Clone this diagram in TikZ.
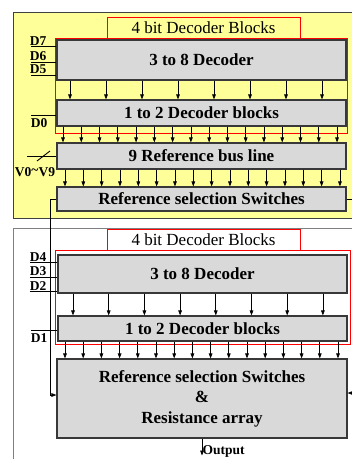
\documentclass[tikz,border=0pt]{standalone}
\usepackage{fontspec}
\setmainfont{Liberation Serif}
\usetikzlibrary{arrows.meta,positioning}
\definecolor{fondo}{HTML}{FFFF99}
\definecolor{bloquegris}{HTML}{D9D9D9}
\definecolor{borde}{HTML}{383838}
\definecolor{rojo}{HTML}{FF0000}

\begin{document}
\begin{tikzpicture}[x=1pt, y=-1pt,
  bloque/.style={draw=borde, line width=1.1pt, fill=bloquegris, minimum width=289pt,
    inner sep=0pt, align=center, font=\fontsize{17}{20.5}\selectfont\bfseries},
  pestana/.style={draw=rojo, line width=0.9pt, minimum width=193pt, minimum height=21pt,
    inner sep=0pt, font=\fontsize{17}{19}\selectfont},
  grupo/.style={draw=rojo, line width=0.9pt},
  fleche/.style={-{Triangle[length=5pt,width=3.6pt]}, line width=0.7pt},
  hilo/.style={line width=0.9pt},
  etiq/.style={inner sep=0.5pt, font=\fontsize{13.5}{14}\selectfont\bfseries}]
\useasboundingbox (0,0) rectangle (352,459);
\clip (0,0) rectangle (352,459);

% panels
\draw[fill=fondo, draw=black!75, line width=1pt] (13,12) rectangle (362,218);
\draw[draw=black!50, line width=1pt] (13,228) rectangle (362,470);

% upper decoder
\draw[grupo] (55,38) rectangle (347,133);
\node[pestana, fill=fondo] (tabA) at (203.5,27.5) {4 bit Decoder Blocks};
\node[bloque, minimum height=40pt] (dec38a) at (201.5,60) {3 to 8 Decoder};
\node[bloque, minimum height=26pt] (dec12a) at (201.5,113) {1 to 2 Decoder blocks};
\node[bloque, minimum height=26pt] (bus) at (201.5,156) {9 Reference bus line};
\node[bloque, minimum height=24pt] (swA) at (201.5,199) {Reference selection Switches};

\foreach \i [evaluate=\i as \x using 70+36*\i] in {0,...,7}
  \draw[fleche] (\x,0 |- dec38a.south) -- (\x,0 |- dec12a.north);
\foreach \i [evaluate=\i as \x using 63+18.27*\i] in {0,...,15}
  \draw[fleche] (\x,0 |- dec12a.south) -- (\x,0 |- bus.north);
\foreach \i [evaluate=\i as \x using 65+18.33*\i] in {0,...,15}
  \draw[fleche] (\x,0 |- bus.south) -- (\x,0 |- swA.north);

\foreach \n/\y in {7/46,6/62,5/75}
  \draw[hilo] (31,\y) node[etiq, above right, xshift=-2pt] {D\n} -- (dec38a.west |- 0,\y);
\draw[hilo] (31,115) node[etiq, below right, xshift=-1pt, yshift=-3pt] {D0} -- (dec12a.west |- 0,115);
\draw[hilo] (27,156) -- (bus.west |- 0,156);
\draw[hilo] (37,161) -- (50,151);
\node[etiq] (vref) at (35,172) {V0\raisebox{0.25ex}{\textasciitilde}V9};

% lower decoder
\draw[grupo] (55,250) rectangle (350,344);
\node[pestana, fill=white] (tabB) at (203.5,239.5) {4 bit Decoder Blocks};
\node[bloque, minimum height=38pt] (dec38b) at (202.5,274) {3 to 8 Decoder};
\node[bloque, minimum height=25pt] (dec12b) at (202.5,328.5) {1 to 2 Decoder blocks};
\node[bloque, minimum height=79pt, minimum width=290pt] (resarr) at (202,398.5)
  {Reference selection Switches\\\&\\Resistance array};

\foreach \i [evaluate=\i as \x using 73+35.7*\i] in {0,...,7}
  \draw[fleche] (\x,0 |- dec38b.south) -- (\x,0 |- dec12b.north);
\foreach \i [evaluate=\i as \x using 65+18.2*\i] in {0,...,15}
  \draw[fleche] (\x,0 |- dec12b.south) -- (\x,0 |- resarr.north);

\foreach \n/\y in {4/262,3/277,2/291}
  \draw[hilo] (30,\y) node[etiq, above right, xshift=-1pt] {D\n} -- (dec38b.west |- 0,\y);
\draw[hilo] (31,330) node[etiq, below right, xshift=-1pt, yshift=-3pt] {D1} -- (dec12b.west |- 0,330);

% links between the two halves
\draw[fleche] (swA.west) -- (50,199) |- (resarr.west |- 0,395);
\draw[hilo] (swA.east) -- (362,199);
\coordinate (desde) at (362,393);
\draw[fleche] (desde) -- (resarr.east |- desde);
\draw[fleche] (resarr.south) -- ++(0,17) coordinate (salida);
\node[etiq, anchor=west, yshift=4pt] (outlab) at (salida) {Output};
\end{tikzpicture}
\end{document}
